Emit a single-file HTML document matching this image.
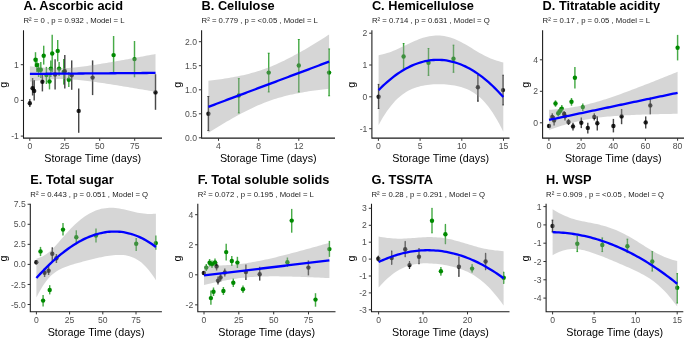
<!DOCTYPE html>
<html><head><meta charset="utf-8"><style>
html,body{margin:0;padding:0;background:#fff;}
svg{display:block;filter:blur(0.3px);}
text{font-family:"Liberation Sans",sans-serif;}
.ti{font-size:12.75px;font-weight:bold;fill:#000;}
.su{font-size:7.75px;fill:#1a1a1a;}
.tk{font-size:8.6px;fill:#4d4d4d;}
.xl{font-size:10.75px;fill:#000;}
</style></head><body>
<svg width="685" height="338" viewBox="0 0 685 338">
<rect width="685" height="338" fill="#fff"/>
<g><line x1="35.5" y1="52.2" x2="35.5" y2="67" stroke="rgba(0,138,0,0.72)" stroke-width="1.45"/><line x1="36.9" y1="58" x2="36.9" y2="72" stroke="rgba(0,138,0,0.72)" stroke-width="1.45"/><line x1="38.6" y1="63" x2="38.6" y2="77" stroke="rgba(0,138,0,0.72)" stroke-width="1.45"/><line x1="40.8" y1="62" x2="40.8" y2="78" stroke="rgba(0,138,0,0.72)" stroke-width="1.45"/><line x1="43.7" y1="45.7" x2="43.7" y2="64.6" stroke="rgba(0,138,0,0.72)" stroke-width="1.45"/><line x1="49.5" y1="74" x2="49.5" y2="89.4" stroke="rgba(0,138,0,0.72)" stroke-width="1.45"/><line x1="50.8" y1="60.6" x2="50.8" y2="77" stroke="rgba(0,138,0,0.72)" stroke-width="1.45"/><line x1="52.2" y1="34.7" x2="52.2" y2="72" stroke="rgba(0,138,0,0.72)" stroke-width="1.45"/><line x1="57.7" y1="40" x2="57.7" y2="61.5" stroke="rgba(0,138,0,0.72)" stroke-width="1.45"/><line x1="59.1" y1="62" x2="59.1" y2="76" stroke="rgba(0,138,0,0.72)" stroke-width="1.45"/><line x1="63.7" y1="59" x2="63.7" y2="84.6" stroke="rgba(0,138,0,0.72)" stroke-width="1.45"/><line x1="68.8" y1="72" x2="68.8" y2="86.9" stroke="rgba(0,138,0,0.72)" stroke-width="1.45"/><line x1="113.6" y1="36" x2="113.6" y2="72.7" stroke="rgba(0,138,0,0.72)" stroke-width="1.45"/><line x1="134.5" y1="41" x2="134.5" y2="77.3" stroke="rgba(0,138,0,0.72)" stroke-width="1.45"/><line x1="46.4" y1="66.9" x2="46.4" y2="84" stroke="rgba(0,138,0,0.72)" stroke-width="1.45"/><line x1="29.8" y1="99.1" x2="29.8" y2="107.1" stroke="rgba(0,0,0,0.72)" stroke-width="1.45"/><line x1="32.6" y1="78" x2="32.6" y2="95.5" stroke="rgba(0,0,0,0.72)" stroke-width="1.45"/><line x1="34.2" y1="80" x2="34.2" y2="100.4" stroke="rgba(0,0,0,0.72)" stroke-width="1.45"/><line x1="42.4" y1="74" x2="42.4" y2="91.4" stroke="rgba(0,0,0,0.72)" stroke-width="1.45"/><line x1="55.1" y1="59.3" x2="55.1" y2="89.5" stroke="rgba(0,0,0,0.72)" stroke-width="1.45"/><line x1="64.8" y1="55" x2="64.8" y2="88.6" stroke="rgba(0,0,0,0.72)" stroke-width="1.45"/><line x1="71.7" y1="60.4" x2="71.7" y2="89.8" stroke="rgba(0,0,0,0.72)" stroke-width="1.45"/><line x1="78.7" y1="88.5" x2="78.7" y2="132.8" stroke="rgba(0,0,0,0.72)" stroke-width="1.45"/><line x1="92.6" y1="60.4" x2="92.6" y2="95.1" stroke="rgba(0,0,0,0.72)" stroke-width="1.45"/><line x1="155.5" y1="74.2" x2="155.5" y2="109.8" stroke="rgba(0,0,0,0.72)" stroke-width="1.45"/><circle cx="35.5" cy="59.8" r="2.2" fill="#008a00"/><circle cx="36.9" cy="65.1" r="2.2" fill="#008a00"/><circle cx="38.6" cy="69.8" r="2.2" fill="#008a00"/><circle cx="40.8" cy="69.8" r="2.2" fill="#008a00"/><circle cx="43.7" cy="55.8" r="2.2" fill="#008a00"/><circle cx="49.5" cy="81.5" r="2.2" fill="#008a00"/><circle cx="50.8" cy="68.6" r="2.2" fill="#008a00"/><circle cx="52.2" cy="53.5" r="2.2" fill="#008a00"/><circle cx="57.7" cy="50.9" r="2.2" fill="#008a00"/><circle cx="59.1" cy="68.6" r="2.2" fill="#008a00"/><circle cx="63.7" cy="72" r="2.2" fill="#008a00"/><circle cx="68.8" cy="79.7" r="2.2" fill="#008a00"/><circle cx="113.6" cy="55.1" r="2.2" fill="#008a00"/><circle cx="134.5" cy="59.1" r="2.2" fill="#008a00"/><circle cx="46.4" cy="75" r="2.2" fill="#008a00"/><circle cx="29.8" cy="103.3" r="2.2" fill="rgba(0,0,0,0.85)"/><circle cx="32.6" cy="88.2" r="2.2" fill="rgba(0,0,0,0.85)"/><circle cx="34.2" cy="90.9" r="2.2" fill="rgba(0,0,0,0.85)"/><circle cx="42.4" cy="81.7" r="2.2" fill="rgba(0,0,0,0.85)"/><circle cx="55.1" cy="74.5" r="2.2" fill="rgba(0,0,0,0.85)"/><circle cx="64.8" cy="71.3" r="2.2" fill="rgba(0,0,0,0.85)"/><circle cx="71.7" cy="75.2" r="2.2" fill="rgba(0,0,0,0.85)"/><circle cx="78.7" cy="110.9" r="2.2" fill="rgba(0,0,0,0.85)"/><circle cx="92.6" cy="77.6" r="2.2" fill="rgba(0,0,0,0.85)"/><circle cx="155.5" cy="92.4" r="2.2" fill="rgba(0,0,0,0.85)"/><polygon points="29.9,66.17 32.03,66.43 34.16,66.69 36.29,66.93 38.42,67.16 40.54,67.37 42.67,67.56 44.8,67.74 46.93,67.89 49.06,68.02 51.19,68.13 53.32,68.21 55.45,68.26 57.57,68.28 59.7,68.28 61.83,68.24 63.96,68.18 66.09,68.08 68.22,67.96 70.35,67.81 72.48,67.64 74.61,67.44 76.73,67.23 78.86,67 80.99,66.74 83.12,66.48 85.25,66.2 87.38,65.91 89.51,65.61 91.64,65.29 93.76,64.97 95.89,64.64 98.02,64.31 100.15,63.97 102.28,63.62 104.41,63.26 106.54,62.91 108.67,62.55 110.79,62.18 112.92,61.81 115.05,61.44 117.18,61.06 119.31,60.69 121.44,60.31 123.57,59.93 125.7,59.54 127.83,59.16 129.95,58.77 132.08,58.38 134.21,57.99 136.34,57.6 138.47,57.2 140.6,56.81 142.73,56.41 144.86,56.02 146.98,55.62 149.11,55.22 151.24,54.82 153.37,54.42 155.5,54.02 155.5,91.8 153.37,91.43 151.24,91.06 149.11,90.7 146.98,90.33 144.86,89.97 142.73,89.61 140.6,89.25 138.47,88.88 136.34,88.52 134.21,88.17 132.08,87.81 129.95,87.45 127.83,87.1 125.7,86.75 123.57,86.4 121.44,86.05 119.31,85.7 117.18,85.36 115.05,85.02 112.92,84.68 110.79,84.34 108.67,84.01 106.54,83.69 104.41,83.36 102.28,83.04 100.15,82.73 98.02,82.42 95.89,82.12 93.76,81.82 91.64,81.54 89.51,81.26 87.38,80.99 85.25,80.73 83.12,80.48 80.99,80.25 78.86,80.03 76.73,79.83 74.61,79.65 72.48,79.49 70.35,79.35 68.22,79.24 66.09,79.15 63.96,79.09 61.83,79.06 59.7,79.06 57.57,79.08 55.45,79.14 53.32,79.22 51.19,79.34 49.06,79.48 46.93,79.64 44.8,79.83 42.67,80.04 40.54,80.27 38.42,80.51 36.29,80.77 34.16,81.05 32.03,81.34 29.9,81.64" fill="#999999" fill-opacity="0.4"/><polyline points="29.9,73.9 32.03,73.89 34.16,73.87 36.29,73.85 38.42,73.83 40.54,73.82 42.67,73.8 44.8,73.78 46.93,73.77 49.06,73.75 51.19,73.73 53.32,73.72 55.45,73.7 57.57,73.68 59.7,73.67 61.83,73.65 63.96,73.63 66.09,73.62 68.22,73.6 70.35,73.58 72.48,73.57 74.61,73.55 76.73,73.53 78.86,73.52 80.99,73.5 83.12,73.48 85.25,73.46 87.38,73.45 89.51,73.43 91.64,73.41 93.76,73.4 95.89,73.38 98.02,73.36 100.15,73.35 102.28,73.33 104.41,73.31 106.54,73.3 108.67,73.28 110.79,73.26 112.92,73.25 115.05,73.23 117.18,73.21 119.31,73.2 121.44,73.18 123.57,73.16 125.7,73.14 127.83,73.13 129.95,73.11 132.08,73.09 134.21,73.08 136.34,73.06 138.47,73.04 140.6,73.03 142.73,73.01 144.86,72.99 146.98,72.98 149.11,72.96 151.24,72.94 153.37,72.93 155.5,72.91" fill="none" stroke="#0000ff" stroke-width="2.3"/><path d="M23.5,30.2V138.1H162" fill="none" stroke="#1a1a1a" stroke-width="1.07"/><line x1="29.8" y1="138.1" x2="29.8" y2="140.8" stroke="#333" stroke-width="1"/><text x="29.8" y="149.1" class="tk" text-anchor="middle">0</text><line x1="64.8" y1="138.1" x2="64.8" y2="140.8" stroke="#333" stroke-width="1"/><text x="64.8" y="149.1" class="tk" text-anchor="middle">25</text><line x1="99.7" y1="138.1" x2="99.7" y2="140.8" stroke="#333" stroke-width="1"/><text x="99.7" y="149.1" class="tk" text-anchor="middle">50</text><line x1="134.7" y1="138.1" x2="134.7" y2="140.8" stroke="#333" stroke-width="1"/><text x="134.7" y="149.1" class="tk" text-anchor="middle">75</text><line x1="20.8" y1="64.7" x2="23.5" y2="64.7" stroke="#333" stroke-width="1"/><text x="18.9" y="67.75" class="tk" text-anchor="end">1</text><line x1="20.8" y1="100.4" x2="23.5" y2="100.4" stroke="#333" stroke-width="1"/><text x="18.9" y="103.45" class="tk" text-anchor="end">0</text><line x1="20.8" y1="136.1" x2="23.5" y2="136.1" stroke="#333" stroke-width="1"/><text x="18.9" y="139.15" class="tk" text-anchor="end">-1</text><text x="23.5" y="9.9" class="ti">A. Ascorbic acid</text><text x="23.5" y="23.3" class="su">R² = 0 , p = 0.932 , Model = L</text><text x="92.75" y="161.9" class="xl" text-anchor="middle">Storage Time (days)</text><text transform="translate(6.95,84.8) rotate(-90)" class="xl" text-anchor="middle">g</text></g>
<g><line x1="208.4" y1="96.5" x2="208.4" y2="130.6" stroke="rgba(0,0,0,0.72)" stroke-width="1.45"/><line x1="207.4" y1="96.5" x2="209.4" y2="96.5" stroke="rgba(0,0,0,0.72)" stroke-width="1"/><line x1="207.4" y1="130.6" x2="209.4" y2="130.6" stroke="rgba(0,0,0,0.72)" stroke-width="1"/><line x1="238.8" y1="78.6" x2="238.8" y2="113" stroke="rgba(0,138,0,0.72)" stroke-width="1.45"/><line x1="237.8" y1="78.6" x2="239.8" y2="78.6" stroke="rgba(0,138,0,0.72)" stroke-width="1"/><line x1="237.8" y1="113" x2="239.8" y2="113" stroke="rgba(0,138,0,0.72)" stroke-width="1"/><line x1="268.7" y1="53.2" x2="268.7" y2="92" stroke="rgba(0,138,0,0.72)" stroke-width="1.45"/><line x1="267.7" y1="53.2" x2="269.7" y2="53.2" stroke="rgba(0,138,0,0.72)" stroke-width="1"/><line x1="267.7" y1="92" x2="269.7" y2="92" stroke="rgba(0,138,0,0.72)" stroke-width="1"/><line x1="298.8" y1="39.5" x2="298.8" y2="92" stroke="rgba(0,138,0,0.72)" stroke-width="1.45"/><line x1="297.8" y1="39.5" x2="299.8" y2="39.5" stroke="rgba(0,138,0,0.72)" stroke-width="1"/><line x1="297.8" y1="92" x2="299.8" y2="92" stroke="rgba(0,138,0,0.72)" stroke-width="1"/><line x1="329.1" y1="48.9" x2="329.1" y2="95.8" stroke="rgba(0,138,0,0.72)" stroke-width="1.45"/><line x1="328.1" y1="48.9" x2="330.1" y2="48.9" stroke="rgba(0,138,0,0.72)" stroke-width="1"/><line x1="328.1" y1="95.8" x2="330.1" y2="95.8" stroke="rgba(0,138,0,0.72)" stroke-width="1"/><circle cx="208.4" cy="113.7" r="2.2" fill="rgba(0,0,0,0.85)"/><circle cx="238.8" cy="95.5" r="2.2" fill="#008a00"/><circle cx="268.7" cy="72.6" r="2.2" fill="#008a00"/><circle cx="298.8" cy="65.5" r="2.2" fill="#008a00"/><circle cx="329.1" cy="72.6" r="2.2" fill="#008a00"/><polygon points="208.4,80.8 210.45,80.56 212.49,80.31 214.54,80.06 216.58,79.79 218.63,79.51 220.67,79.22 222.72,78.93 224.77,78.62 226.81,78.29 228.86,77.96 230.9,77.6 232.95,77.24 234.99,76.86 237.04,76.46 239.09,76.04 241.13,75.6 243.18,75.14 245.22,74.66 247.27,74.16 249.32,73.64 251.36,73.09 253.41,72.52 255.45,71.92 257.5,71.3 259.54,70.65 261.59,69.97 263.64,69.26 265.68,68.52 267.73,67.75 269.77,66.96 271.82,66.14 273.86,65.29 275.91,64.41 277.96,63.5 280,62.57 282.05,61.61 284.09,60.63 286.14,59.62 288.18,58.59 290.23,57.54 292.28,56.46 294.32,55.37 296.37,54.26 298.41,53.12 300.46,51.98 302.51,50.81 304.55,49.63 306.6,48.44 308.64,47.23 310.69,46.01 312.73,44.77 314.78,43.53 316.83,42.27 318.87,41.01 320.92,39.73 322.96,38.45 325.01,37.16 327.05,35.86 329.1,34.55 329.1,88.72 327.05,88.94 325.01,89.18 322.96,89.42 320.92,89.67 318.87,89.93 316.83,90.19 314.78,90.47 312.73,90.76 310.69,91.06 308.64,91.37 306.6,91.69 304.55,92.03 302.51,92.38 300.46,92.75 298.41,93.13 296.37,93.53 294.32,93.95 292.28,94.39 290.23,94.85 288.18,95.33 286.14,95.83 284.09,96.36 282.05,96.91 280,97.48 277.96,98.08 275.91,98.71 273.86,99.36 271.82,100.04 269.77,100.75 267.73,101.49 265.68,102.26 263.64,103.05 261.59,103.88 259.54,104.73 257.5,105.61 255.45,106.52 253.41,107.45 251.36,108.41 249.32,109.4 247.27,110.41 245.22,111.44 243.18,112.49 241.13,113.57 239.09,114.66 237.04,115.78 234.99,116.91 232.95,118.06 230.9,119.23 228.86,120.41 226.81,121.6 224.77,122.81 222.72,124.04 220.67,125.27 218.63,126.52 216.58,127.77 214.54,129.04 212.49,130.31 210.45,131.6 208.4,132.89" fill="#999999" fill-opacity="0.4"/><polyline points="208.4,106.85 210.45,106.08 212.49,105.31 214.54,104.55 216.58,103.78 218.63,103.01 220.67,102.25 222.72,101.48 224.77,100.71 226.81,99.95 228.86,99.18 230.9,98.42 232.95,97.65 234.99,96.88 237.04,96.12 239.09,95.35 241.13,94.58 243.18,93.82 245.22,93.05 247.27,92.29 249.32,91.52 251.36,90.75 253.41,89.99 255.45,89.22 257.5,88.45 259.54,87.69 261.59,86.92 263.64,86.16 265.68,85.39 267.73,84.62 269.77,83.86 271.82,83.09 273.86,82.32 275.91,81.56 277.96,80.79 280,80.03 282.05,79.26 284.09,78.49 286.14,77.73 288.18,76.96 290.23,76.19 292.28,75.43 294.32,74.66 296.37,73.9 298.41,73.13 300.46,72.36 302.51,71.6 304.55,70.83 306.6,70.06 308.64,69.3 310.69,68.53 312.73,67.77 314.78,67 316.83,66.23 318.87,65.47 320.92,64.7 322.96,63.93 325.01,63.17 327.05,62.4 329.1,61.64" fill="none" stroke="#0000ff" stroke-width="2.3"/><path d="M201.6,30.2V138.1H335" fill="none" stroke="#1a1a1a" stroke-width="1.07"/><line x1="218.5" y1="138.1" x2="218.5" y2="140.8" stroke="#333" stroke-width="1"/><text x="218.5" y="149.1" class="tk" text-anchor="middle">4</text><line x1="258.7" y1="138.1" x2="258.7" y2="140.8" stroke="#333" stroke-width="1"/><text x="258.7" y="149.1" class="tk" text-anchor="middle">8</text><line x1="298.8" y1="138.1" x2="298.8" y2="140.8" stroke="#333" stroke-width="1"/><text x="298.8" y="149.1" class="tk" text-anchor="middle">12</text><line x1="198.9" y1="137.8" x2="201.6" y2="137.8" stroke="#333" stroke-width="1"/><text x="197" y="140.85" class="tk" text-anchor="end">0.0</text><line x1="198.9" y1="113.8" x2="201.6" y2="113.8" stroke="#333" stroke-width="1"/><text x="197" y="116.85" class="tk" text-anchor="end">0.5</text><line x1="198.9" y1="89.8" x2="201.6" y2="89.8" stroke="#333" stroke-width="1"/><text x="197" y="92.85" class="tk" text-anchor="end">1.0</text><line x1="198.9" y1="65.7" x2="201.6" y2="65.7" stroke="#333" stroke-width="1"/><text x="197" y="68.75" class="tk" text-anchor="end">1.5</text><line x1="198.9" y1="41.7" x2="201.6" y2="41.7" stroke="#333" stroke-width="1"/><text x="197" y="44.75" class="tk" text-anchor="end">2.0</text><text x="201.6" y="9.9" class="ti">B. Cellulose</text><text x="201.6" y="23.3" class="su">R² = 0.779 , p = <0.05 , Model = L</text><text x="268.3" y="161.9" class="xl" text-anchor="middle">Storage Time (days)</text><text transform="translate(180.95,84.8) rotate(-90)" class="xl" text-anchor="middle">g</text></g>
<g><line x1="378.6" y1="84.4" x2="378.6" y2="108.5" stroke="rgba(0,0,0,0.72)" stroke-width="1.45"/><line x1="377.75" y1="84.4" x2="379.45" y2="84.4" stroke="rgba(0,0,0,0.72)" stroke-width="1"/><line x1="377.75" y1="108.5" x2="379.45" y2="108.5" stroke="rgba(0,0,0,0.72)" stroke-width="1"/><line x1="403.6" y1="43.5" x2="403.6" y2="68.3" stroke="rgba(0,138,0,0.72)" stroke-width="1.45"/><line x1="402.75" y1="43.5" x2="404.45" y2="43.5" stroke="rgba(0,138,0,0.72)" stroke-width="1"/><line x1="402.75" y1="68.3" x2="404.45" y2="68.3" stroke="rgba(0,138,0,0.72)" stroke-width="1"/><line x1="428.5" y1="48.5" x2="428.5" y2="75.4" stroke="rgba(0,138,0,0.72)" stroke-width="1.45"/><line x1="427.65" y1="48.5" x2="429.35" y2="48.5" stroke="rgba(0,138,0,0.72)" stroke-width="1"/><line x1="427.65" y1="75.4" x2="429.35" y2="75.4" stroke="rgba(0,138,0,0.72)" stroke-width="1"/><line x1="453.5" y1="45.1" x2="453.5" y2="72.3" stroke="rgba(0,138,0,0.72)" stroke-width="1.45"/><line x1="452.65" y1="45.1" x2="454.35" y2="45.1" stroke="rgba(0,138,0,0.72)" stroke-width="1"/><line x1="452.65" y1="72.3" x2="454.35" y2="72.3" stroke="rgba(0,138,0,0.72)" stroke-width="1"/><line x1="477.9" y1="75.4" x2="477.9" y2="101.2" stroke="rgba(0,0,0,0.72)" stroke-width="1.45"/><line x1="477.05" y1="75.4" x2="478.75" y2="75.4" stroke="rgba(0,0,0,0.72)" stroke-width="1"/><line x1="477.05" y1="101.2" x2="478.75" y2="101.2" stroke="rgba(0,0,0,0.72)" stroke-width="1"/><line x1="503" y1="75.2" x2="503" y2="105" stroke="rgba(0,0,0,0.72)" stroke-width="1.45"/><line x1="502.15" y1="75.2" x2="503.85" y2="75.2" stroke="rgba(0,0,0,0.72)" stroke-width="1"/><line x1="502.15" y1="105" x2="503.85" y2="105" stroke="rgba(0,0,0,0.72)" stroke-width="1"/><circle cx="378.6" cy="96.7" r="2.2" fill="rgba(0,0,0,0.85)"/><circle cx="403.6" cy="56.5" r="2.2" fill="#008a00"/><circle cx="428.5" cy="62.8" r="2.2" fill="#008a00"/><circle cx="453.5" cy="58.8" r="2.2" fill="#008a00"/><circle cx="477.9" cy="87.2" r="2.2" fill="rgba(0,0,0,0.85)"/><circle cx="503" cy="90.1" r="2.2" fill="rgba(0,0,0,0.85)"/><polygon points="378.6,55.27 380.71,54.81 382.83,54.3 384.94,53.73 387.05,53.1 389.17,52.41 391.28,51.65 393.39,50.84 395.51,49.96 397.62,49.04 399.74,48.08 401.85,47.09 403.96,46.07 406.08,45.04 408.19,44.02 410.3,43 412.42,42.02 414.53,41.07 416.64,40.16 418.76,39.32 420.87,38.55 422.98,37.84 425.1,37.23 427.21,36.7 429.33,36.26 431.44,35.92 433.55,35.68 435.67,35.55 437.78,35.52 439.89,35.6 442.01,35.79 444.12,36.09 446.23,36.49 448.35,37 450.46,37.61 452.57,38.32 454.69,39.12 456.8,40.01 458.92,40.99 461.03,42.05 463.14,43.17 465.26,44.35 467.37,45.57 469.48,46.84 471.6,48.12 473.71,49.41 475.82,50.69 477.94,51.95 480.05,53.18 482.16,54.36 484.28,55.48 486.39,56.54 488.51,57.53 490.62,58.44 492.73,59.28 494.85,60.04 496.96,60.73 499.07,61.36 501.19,61.92 503.3,62.42 503.3,131.69 501.19,127.48 499.07,123.47 496.96,119.69 494.85,116.13 492.73,112.79 490.62,109.68 488.51,106.8 486.39,104.15 484.28,101.73 482.16,99.52 480.05,97.53 477.94,95.74 475.82,94.13 473.71,92.71 471.6,91.44 469.48,90.33 467.37,89.34 465.26,88.48 463.14,87.72 461.03,87.06 458.92,86.49 456.8,86 454.69,85.57 452.57,85.21 450.46,84.91 448.35,84.67 446.23,84.48 444.12,84.34 442.01,84.24 439.89,84.19 437.78,84.19 435.67,84.24 433.55,84.34 431.44,84.48 429.33,84.68 427.21,84.94 425.1,85.26 422.98,85.64 420.87,86.1 418.76,86.63 416.64,87.25 414.53,87.97 412.42,88.8 410.3,89.74 408.19,90.81 406.08,92.03 403.96,93.39 401.85,94.92 399.74,96.63 397.62,98.53 395.51,100.62 393.39,102.92 391.28,105.42 389.17,108.14 387.05,111.08 384.94,114.23 382.83,117.6 380.71,121.19 378.6,124.98" fill="#999999" fill-opacity="0.4"/><polyline points="378.6,90.13 380.71,88 382.83,85.95 384.94,83.98 387.05,82.09 389.17,80.27 391.28,78.54 393.39,76.88 395.51,75.29 397.62,73.79 399.74,72.36 401.85,71.01 403.96,69.73 406.08,68.53 408.19,67.41 410.3,66.37 412.42,65.41 414.53,64.52 416.64,63.71 418.76,62.98 420.87,62.32 422.98,61.74 425.1,61.24 427.21,60.82 429.33,60.47 431.44,60.2 433.55,60.01 435.67,59.9 437.78,59.86 439.89,59.9 442.01,60.02 444.12,60.21 446.23,60.48 448.35,60.83 450.46,61.26 452.57,61.76 454.69,62.35 456.8,63 458.92,63.74 461.03,64.55 463.14,65.44 465.26,66.41 467.37,67.46 469.48,68.58 471.6,69.78 473.71,71.06 475.82,72.41 477.94,73.84 480.05,75.35 482.16,76.94 484.28,78.6 486.39,80.35 488.51,82.16 490.62,84.06 492.73,86.03 494.85,88.08 496.96,90.21 499.07,92.42 501.19,94.7 503.3,97.06" fill="none" stroke="#0000ff" stroke-width="2.3"/><path d="M371.9,30.2V138.1H509.5" fill="none" stroke="#1a1a1a" stroke-width="1.07"/><line x1="378.4" y1="138.1" x2="378.4" y2="140.8" stroke="#333" stroke-width="1"/><text x="378.4" y="149.1" class="tk" text-anchor="middle">0</text><line x1="420.1" y1="138.1" x2="420.1" y2="140.8" stroke="#333" stroke-width="1"/><text x="420.1" y="149.1" class="tk" text-anchor="middle">5</text><line x1="461.8" y1="138.1" x2="461.8" y2="140.8" stroke="#333" stroke-width="1"/><text x="461.8" y="149.1" class="tk" text-anchor="middle">10</text><line x1="503.5" y1="138.1" x2="503.5" y2="140.8" stroke="#333" stroke-width="1"/><text x="503.5" y="149.1" class="tk" text-anchor="middle">15</text><line x1="369.2" y1="33.2" x2="371.9" y2="33.2" stroke="#333" stroke-width="1"/><text x="367.3" y="36.25" class="tk" text-anchor="end">2</text><line x1="369.2" y1="65" x2="371.9" y2="65" stroke="#333" stroke-width="1"/><text x="367.3" y="68.05" class="tk" text-anchor="end">1</text><line x1="369.2" y1="96.8" x2="371.9" y2="96.8" stroke="#333" stroke-width="1"/><text x="367.3" y="99.85" class="tk" text-anchor="end">0</text><line x1="369.2" y1="128.7" x2="371.9" y2="128.7" stroke="#333" stroke-width="1"/><text x="367.3" y="131.75" class="tk" text-anchor="end">-1</text><text x="371.9" y="9.9" class="ti">C. Hemicellulose</text><text x="371.9" y="23.3" class="su">R² = 0.714 , p = 0.631 , Model = Q</text><text x="440.7" y="161.9" class="xl" text-anchor="middle">Storage Time (days)</text><text transform="translate(354.95,84.8) rotate(-90)" class="xl" text-anchor="middle">g</text></g>
<g><line x1="549" y1="124" x2="549" y2="128" stroke="rgba(0,0,0,0.72)" stroke-width="1.45"/><line x1="552.3" y1="113.3" x2="552.3" y2="119.9" stroke="rgba(0,0,0,0.72)" stroke-width="1.45"/><line x1="554.1" y1="116" x2="554.1" y2="125.5" stroke="rgba(0,0,0,0.72)" stroke-width="1.45"/><line x1="564.1" y1="111" x2="564.1" y2="118" stroke="rgba(0,0,0,0.72)" stroke-width="1.45"/><line x1="565" y1="112" x2="565" y2="120.4" stroke="rgba(0,0,0,0.72)" stroke-width="1.45"/><line x1="568.5" y1="119" x2="568.5" y2="125" stroke="rgba(0,0,0,0.72)" stroke-width="1.45"/><line x1="573" y1="122.8" x2="573" y2="130.5" stroke="rgba(0,0,0,0.72)" stroke-width="1.45"/><line x1="581.3" y1="117.5" x2="581.3" y2="128.1" stroke="rgba(0,0,0,0.72)" stroke-width="1.45"/><line x1="587.8" y1="122.8" x2="587.8" y2="133.5" stroke="rgba(0,0,0,0.72)" stroke-width="1.45"/><line x1="594.3" y1="113.3" x2="594.3" y2="120.4" stroke="rgba(0,0,0,0.72)" stroke-width="1.45"/><line x1="597.3" y1="116.3" x2="597.3" y2="130.5" stroke="rgba(0,0,0,0.72)" stroke-width="1.45"/><line x1="613.4" y1="118.9" x2="613.4" y2="132.4" stroke="rgba(0,0,0,0.72)" stroke-width="1.45"/><line x1="621.6" y1="109" x2="621.6" y2="124.2" stroke="rgba(0,0,0,0.72)" stroke-width="1.45"/><line x1="645.7" y1="116.4" x2="645.7" y2="128.5" stroke="rgba(0,0,0,0.72)" stroke-width="1.45"/><line x1="650.3" y1="97.6" x2="650.3" y2="114.3" stroke="rgba(0,0,0,0.72)" stroke-width="1.45"/><line x1="555.5" y1="100.3" x2="555.5" y2="106.8" stroke="rgba(0,138,0,0.72)" stroke-width="1.45"/><line x1="558.2" y1="110" x2="558.2" y2="116.5" stroke="rgba(0,138,0,0.72)" stroke-width="1.45"/><line x1="560" y1="107.5" x2="560" y2="114.5" stroke="rgba(0,138,0,0.72)" stroke-width="1.45"/><line x1="561.8" y1="105" x2="561.8" y2="112" stroke="rgba(0,138,0,0.72)" stroke-width="1.45"/><line x1="571.5" y1="98" x2="571.5" y2="105.7" stroke="rgba(0,138,0,0.72)" stroke-width="1.45"/><line x1="574.9" y1="67.1" x2="574.9" y2="88.4" stroke="rgba(0,138,0,0.72)" stroke-width="1.45"/><line x1="582.8" y1="103.5" x2="582.8" y2="111" stroke="rgba(0,138,0,0.72)" stroke-width="1.45"/><line x1="677.6" y1="34.9" x2="677.6" y2="60.4" stroke="rgba(0,138,0,0.72)" stroke-width="1.45"/><circle cx="549" cy="126" r="2.2" fill="rgba(0,0,0,0.85)"/><circle cx="552.3" cy="116.9" r="2.2" fill="rgba(0,0,0,0.85)"/><circle cx="554.1" cy="120.4" r="2.2" fill="rgba(0,0,0,0.85)"/><circle cx="564.1" cy="113.9" r="2.2" fill="rgba(0,0,0,0.85)"/><circle cx="565" cy="116.3" r="2.2" fill="rgba(0,0,0,0.85)"/><circle cx="568.5" cy="122" r="2.2" fill="rgba(0,0,0,0.85)"/><circle cx="573" cy="126.4" r="2.2" fill="rgba(0,0,0,0.85)"/><circle cx="581.3" cy="122.8" r="2.2" fill="rgba(0,0,0,0.85)"/><circle cx="587.8" cy="127.9" r="2.2" fill="rgba(0,0,0,0.85)"/><circle cx="594.3" cy="116.9" r="2.2" fill="rgba(0,0,0,0.85)"/><circle cx="597.3" cy="123.2" r="2.2" fill="rgba(0,0,0,0.85)"/><circle cx="613.4" cy="126" r="2.2" fill="rgba(0,0,0,0.85)"/><circle cx="621.6" cy="116.4" r="2.2" fill="rgba(0,0,0,0.85)"/><circle cx="645.7" cy="122.4" r="2.2" fill="rgba(0,0,0,0.85)"/><circle cx="650.3" cy="105.4" r="2.2" fill="rgba(0,0,0,0.85)"/><circle cx="555.5" cy="103.5" r="2.2" fill="#008a00"/><circle cx="558.2" cy="113.3" r="2.2" fill="#008a00"/><circle cx="560" cy="111" r="2.2" fill="#008a00"/><circle cx="561.8" cy="108.6" r="2.2" fill="#008a00"/><circle cx="571.5" cy="101.7" r="2.2" fill="#008a00"/><circle cx="574.9" cy="77.8" r="2.2" fill="#008a00"/><circle cx="582.8" cy="107.1" r="2.2" fill="#008a00"/><circle cx="677.6" cy="47.7" r="2.2" fill="#008a00"/><polygon points="549,109.87 551.18,109.7 553.36,109.53 555.54,109.34 557.72,109.14 559.9,108.93 562.08,108.7 564.26,108.44 566.44,108.17 568.62,107.88 570.8,107.57 572.98,107.23 575.16,106.87 577.34,106.49 579.52,106.07 581.69,105.63 583.87,105.16 586.05,104.67 588.23,104.15 590.41,103.6 592.59,103.03 594.77,102.43 596.95,101.81 599.13,101.17 601.31,100.51 603.49,99.83 605.67,99.14 607.85,98.43 610.03,97.7 612.21,96.96 614.39,96.21 616.57,95.44 618.75,94.67 620.93,93.88 623.11,93.09 625.29,92.29 627.47,91.49 629.65,90.67 631.83,89.85 634.01,89.03 636.19,88.2 638.37,87.36 640.55,86.53 642.73,85.68 644.91,84.84 647.08,83.99 649.26,83.13 651.44,82.28 653.62,81.42 655.8,80.56 657.98,79.7 660.16,78.83 662.34,77.97 664.52,77.1 666.7,76.23 668.88,75.35 671.06,74.48 673.24,73.6 675.42,72.73 677.6,71.85 677.6,113.75 675.42,113.79 673.24,113.83 671.06,113.88 668.88,113.92 666.7,113.97 664.52,114.02 662.34,114.07 660.16,114.12 657.98,114.17 655.8,114.23 653.62,114.29 651.44,114.35 649.26,114.41 647.08,114.48 644.91,114.55 642.73,114.62 640.55,114.7 638.37,114.78 636.19,114.86 634.01,114.95 631.83,115.05 629.65,115.14 627.47,115.25 625.29,115.36 623.11,115.48 620.93,115.61 618.75,115.75 616.57,115.89 614.39,116.05 612.21,116.21 610.03,116.39 607.85,116.58 605.67,116.79 603.49,117.01 601.31,117.25 599.13,117.51 596.95,117.79 594.77,118.09 592.59,118.41 590.41,118.76 588.23,119.13 586.05,119.53 583.87,119.95 581.69,120.41 579.52,120.88 577.34,121.39 575.16,121.92 572.98,122.48 570.8,123.06 568.62,123.67 566.44,124.3 564.26,124.94 562.08,125.61 559.9,126.3 557.72,127 555.54,127.72 553.36,128.45 551.18,129.2 549,129.96" fill="#999999" fill-opacity="0.4"/><polyline points="549,119.91 551.18,119.45 553.36,118.99 555.54,118.53 557.72,118.07 559.9,117.61 562.08,117.15 564.26,116.69 566.44,116.24 568.62,115.78 570.8,115.32 572.98,114.86 575.16,114.4 577.34,113.94 579.52,113.48 581.69,113.02 583.87,112.56 586.05,112.1 588.23,111.64 590.41,111.18 592.59,110.72 594.77,110.26 596.95,109.8 599.13,109.34 601.31,108.88 603.49,108.42 605.67,107.96 607.85,107.5 610.03,107.04 612.21,106.59 614.39,106.13 616.57,105.67 618.75,105.21 620.93,104.75 623.11,104.29 625.29,103.83 627.47,103.37 629.65,102.91 631.83,102.45 634.01,101.99 636.19,101.53 638.37,101.07 640.55,100.61 642.73,100.15 644.91,99.69 647.08,99.23 649.26,98.77 651.44,98.31 653.62,97.85 655.8,97.39 657.98,96.93 660.16,96.48 662.34,96.02 664.52,95.56 666.7,95.1 668.88,94.64 671.06,94.18 673.24,93.72 675.42,93.26 677.6,92.8" fill="none" stroke="#0000ff" stroke-width="2.3"/><path d="M542.6,30.2V138.1H684" fill="none" stroke="#1a1a1a" stroke-width="1.07"/><line x1="548.9" y1="138.1" x2="548.9" y2="140.8" stroke="#333" stroke-width="1"/><text x="548.9" y="149.1" class="tk" text-anchor="middle">0</text><line x1="581.1" y1="138.1" x2="581.1" y2="140.8" stroke="#333" stroke-width="1"/><text x="581.1" y="149.1" class="tk" text-anchor="middle">20</text><line x1="613.3" y1="138.1" x2="613.3" y2="140.8" stroke="#333" stroke-width="1"/><text x="613.3" y="149.1" class="tk" text-anchor="middle">40</text><line x1="645.4" y1="138.1" x2="645.4" y2="140.8" stroke="#333" stroke-width="1"/><text x="645.4" y="149.1" class="tk" text-anchor="middle">60</text><line x1="677.6" y1="138.1" x2="677.6" y2="140.8" stroke="#333" stroke-width="1"/><text x="677.6" y="149.1" class="tk" text-anchor="middle">80</text><line x1="539.9" y1="122.8" x2="542.6" y2="122.8" stroke="#333" stroke-width="1"/><text x="538" y="125.85" class="tk" text-anchor="end">0</text><line x1="539.9" y1="91.3" x2="542.6" y2="91.3" stroke="#333" stroke-width="1"/><text x="538" y="94.35" class="tk" text-anchor="end">2</text><line x1="539.9" y1="59.8" x2="542.6" y2="59.8" stroke="#333" stroke-width="1"/><text x="538" y="62.85" class="tk" text-anchor="end">4</text><text x="542.6" y="9.9" class="ti">D. Titratable acidity</text><text x="542.6" y="23.3" class="su">R² = 0.17 , p = 0.05 , Model = L</text><text x="613.3" y="161.9" class="xl" text-anchor="middle">Storage Time (days)</text><text transform="translate(528.95,84.8) rotate(-90)" class="xl" text-anchor="middle">g</text></g>
<g><line x1="36.3" y1="260" x2="36.3" y2="264.5" stroke="rgba(0,0,0,0.72)" stroke-width="1.45"/><line x1="40.5" y1="246.9" x2="40.5" y2="256.1" stroke="rgba(0,138,0,0.72)" stroke-width="1.45"/><line x1="44.6" y1="268" x2="44.6" y2="277" stroke="rgba(0,0,0,0.72)" stroke-width="1.45"/><line x1="48.6" y1="266" x2="48.6" y2="275" stroke="rgba(0,0,0,0.72)" stroke-width="1.45"/><line x1="43.1" y1="294.9" x2="43.1" y2="306.5" stroke="rgba(0,138,0,0.72)" stroke-width="1.45"/><line x1="49.7" y1="285.2" x2="49.7" y2="294.4" stroke="rgba(0,138,0,0.72)" stroke-width="1.45"/><line x1="52.3" y1="247.3" x2="52.3" y2="262" stroke="rgba(0,0,0,0.72)" stroke-width="1.45"/><line x1="56.4" y1="254" x2="56.4" y2="263" stroke="rgba(0,0,0,0.72)" stroke-width="1.45"/><line x1="63" y1="223" x2="63" y2="235.5" stroke="rgba(0,138,0,0.72)" stroke-width="1.45"/><line x1="76.3" y1="230.3" x2="76.3" y2="244.3" stroke="rgba(0,138,0,0.72)" stroke-width="1.45"/><line x1="96" y1="228.4" x2="96" y2="242.6" stroke="rgba(0,138,0,0.72)" stroke-width="1.45"/><line x1="136.2" y1="237.9" x2="136.2" y2="250.9" stroke="rgba(0,138,0,0.72)" stroke-width="1.45"/><line x1="155.8" y1="235.5" x2="155.8" y2="249.7" stroke="rgba(0,138,0,0.72)" stroke-width="1.45"/><circle cx="36.3" cy="262.2" r="2.2" fill="rgba(0,0,0,0.85)"/><circle cx="40.5" cy="251.4" r="2.2" fill="#008a00"/><circle cx="44.6" cy="272.7" r="2.2" fill="rgba(0,0,0,0.85)"/><circle cx="48.6" cy="270.8" r="2.2" fill="rgba(0,0,0,0.85)"/><circle cx="43.1" cy="300.6" r="2.2" fill="#008a00"/><circle cx="49.7" cy="290" r="2.2" fill="#008a00"/><circle cx="52.3" cy="253.8" r="2.2" fill="rgba(0,0,0,0.85)"/><circle cx="56.4" cy="258.3" r="2.2" fill="rgba(0,0,0,0.85)"/><circle cx="63" cy="229.6" r="2.2" fill="#008a00"/><circle cx="76.3" cy="237.2" r="2.2" fill="#008a00"/><circle cx="96" cy="235.5" r="2.2" fill="#008a00"/><circle cx="136.2" cy="243.8" r="2.2" fill="#008a00"/><circle cx="155.8" cy="243.1" r="2.2" fill="#008a00"/><polygon points="36.4,258.71 38.43,258.09 40.45,257.33 42.48,256.41 44.5,255.3 46.53,253.98 48.55,252.44 50.58,250.7 52.6,248.76 54.63,246.67 56.65,244.46 58.68,242.17 60.71,239.84 62.73,237.51 64.76,235.19 66.78,232.92 68.81,230.71 70.83,228.57 72.86,226.51 74.88,224.55 76.91,222.68 78.93,220.92 80.96,219.26 82.98,217.71 85.01,216.27 87.04,214.94 89.06,213.73 91.09,212.63 93.11,211.65 95.14,210.78 97.16,210.03 99.19,209.39 101.21,208.86 103.24,208.44 105.26,208.13 107.29,207.92 109.32,207.81 111.34,207.79 113.37,207.87 115.39,208.03 117.42,208.27 119.44,208.57 121.47,208.94 123.49,209.35 125.52,209.81 127.54,210.29 129.57,210.78 131.59,211.28 133.62,211.76 135.65,212.22 137.67,212.64 139.7,213.01 141.72,213.33 143.75,213.58 145.77,213.77 147.8,213.9 149.82,213.95 151.85,213.94 153.87,213.87 155.9,213.74 155.9,280.23 153.87,277.07 151.85,274.14 149.82,271.43 147.8,268.95 145.77,266.7 143.75,264.66 141.72,262.86 139.7,261.26 137.67,259.88 135.65,258.7 133.62,257.71 131.59,256.89 129.57,256.24 127.54,255.73 125.52,255.36 123.49,255.11 121.47,254.96 119.44,254.91 117.42,254.94 115.39,255.05 113.37,255.21 111.34,255.44 109.32,255.71 107.29,256.02 105.26,256.37 103.24,256.75 101.21,257.16 99.19,257.59 97.16,258.04 95.14,258.51 93.11,258.99 91.09,259.49 89.06,260 87.04,260.52 85.01,261.05 82.98,261.59 80.96,262.14 78.93,262.7 76.91,263.28 74.88,263.87 72.86,264.48 70.83,265.12 68.81,265.79 66.78,266.5 64.76,267.27 62.73,268.1 60.71,269.03 58.68,270.07 56.65,271.26 54.63,272.63 52.6,274.22 50.58,276.08 48.55,278.23 46.53,280.7 44.5,283.48 42.48,286.57 40.45,289.94 38.43,293.58 36.4,297.47" fill="#999999" fill-opacity="0.4"/><polyline points="36.4,278.09 38.43,275.84 40.45,273.64 42.48,271.49 44.5,269.39 46.53,267.34 48.55,265.34 50.58,263.39 52.6,261.49 54.63,259.65 56.65,257.86 58.68,256.12 60.71,254.43 62.73,252.8 64.76,251.23 66.78,249.71 68.81,248.25 70.83,246.85 72.86,245.5 74.88,244.21 76.91,242.98 78.93,241.81 80.96,240.7 82.98,239.65 85.01,238.66 87.04,237.73 89.06,236.87 91.09,236.06 93.11,235.32 95.14,234.65 97.16,234.04 99.19,233.49 101.21,233.01 103.24,232.6 105.26,232.25 107.29,231.97 109.32,231.76 111.34,231.62 113.37,231.54 115.39,231.54 117.42,231.6 119.44,231.74 121.47,231.95 123.49,232.23 125.52,232.58 127.54,233.01 129.57,233.51 131.59,234.08 133.62,234.73 135.65,235.46 137.67,236.26 139.7,237.14 141.72,238.09 143.75,239.12 145.77,240.23 147.8,241.42 149.82,242.69 151.85,244.04 153.87,245.47 155.9,246.99" fill="none" stroke="#0000ff" stroke-width="2.3"/><path d="M30.3,203.8V311.7H161.9" fill="none" stroke="#1a1a1a" stroke-width="1.07"/><line x1="36.4" y1="311.7" x2="36.4" y2="314.4" stroke="#333" stroke-width="1"/><text x="36.4" y="322.7" class="tk" text-anchor="middle">0</text><line x1="69.6" y1="311.7" x2="69.6" y2="314.4" stroke="#333" stroke-width="1"/><text x="69.6" y="322.7" class="tk" text-anchor="middle">25</text><line x1="102.8" y1="311.7" x2="102.8" y2="314.4" stroke="#333" stroke-width="1"/><text x="102.8" y="322.7" class="tk" text-anchor="middle">50</text><line x1="136" y1="311.7" x2="136" y2="314.4" stroke="#333" stroke-width="1"/><text x="136" y="322.7" class="tk" text-anchor="middle">75</text><line x1="27.6" y1="204.25" x2="30.3" y2="204.25" stroke="#333" stroke-width="1"/><text x="25.7" y="207.3" class="tk" text-anchor="end">7.5</text><line x1="27.6" y1="224.3" x2="30.3" y2="224.3" stroke="#333" stroke-width="1"/><text x="25.7" y="227.35" class="tk" text-anchor="end">5.0</text><line x1="27.6" y1="244.35" x2="30.3" y2="244.35" stroke="#333" stroke-width="1"/><text x="25.7" y="247.4" class="tk" text-anchor="end">2.5</text><line x1="27.6" y1="264.4" x2="30.3" y2="264.4" stroke="#333" stroke-width="1"/><text x="25.7" y="267.45" class="tk" text-anchor="end">0.0</text><line x1="27.6" y1="284.45" x2="30.3" y2="284.45" stroke="#333" stroke-width="1"/><text x="25.7" y="287.5" class="tk" text-anchor="end">-2.5</text><line x1="27.6" y1="304.5" x2="30.3" y2="304.5" stroke="#333" stroke-width="1"/><text x="25.7" y="307.55" class="tk" text-anchor="end">-5.0</text><text x="30.3" y="183.5" class="ti">E. Total sugar</text><text x="30.3" y="196.9" class="su">R² = 0.443 , p = 0.051 , Model = Q</text><text x="96.1" y="335.5" class="xl" text-anchor="middle">Storage Time (days)</text><text transform="translate(6.85,258.4) rotate(-90)" class="xl" text-anchor="middle">g</text></g>
<g><line x1="203.8" y1="271" x2="203.8" y2="275" stroke="rgba(0,0,0,0.72)" stroke-width="1.45"/><line x1="206.3" y1="264" x2="206.3" y2="271" stroke="rgba(0,138,0,0.72)" stroke-width="1.45"/><line x1="209.6" y1="259" x2="209.6" y2="266.5" stroke="rgba(0,138,0,0.72)" stroke-width="1.45"/><line x1="212" y1="260.5" x2="212" y2="268" stroke="rgba(0,138,0,0.72)" stroke-width="1.45"/><line x1="215" y1="258.5" x2="215" y2="266" stroke="rgba(0,138,0,0.72)" stroke-width="1.45"/><line x1="216.6" y1="262" x2="216.6" y2="270.5" stroke="rgba(0,0,0,0.72)" stroke-width="1.45"/><line x1="218" y1="276.5" x2="218" y2="284.5" stroke="rgba(0,0,0,0.72)" stroke-width="1.45"/><line x1="220.6" y1="273.5" x2="220.6" y2="281.5" stroke="rgba(0,0,0,0.72)" stroke-width="1.45"/><line x1="224.8" y1="268.5" x2="224.8" y2="276.5" stroke="rgba(0,0,0,0.72)" stroke-width="1.45"/><line x1="226.2" y1="243.8" x2="226.2" y2="260.4" stroke="rgba(0,138,0,0.72)" stroke-width="1.45"/><line x1="231.8" y1="256" x2="231.8" y2="266" stroke="rgba(0,138,0,0.72)" stroke-width="1.45"/><line x1="237.4" y1="256.8" x2="237.4" y2="268" stroke="rgba(0,138,0,0.72)" stroke-width="1.45"/><line x1="233.3" y1="278.5" x2="233.3" y2="287" stroke="rgba(0,138,0,0.72)" stroke-width="1.45"/><line x1="223.4" y1="287" x2="223.4" y2="295" stroke="rgba(0,138,0,0.72)" stroke-width="1.45"/><line x1="213.5" y1="287.5" x2="213.5" y2="296" stroke="rgba(0,138,0,0.72)" stroke-width="1.45"/><line x1="210.9" y1="290.5" x2="210.9" y2="304.7" stroke="rgba(0,138,0,0.72)" stroke-width="1.45"/><line x1="243" y1="285.5" x2="243" y2="293" stroke="rgba(0,138,0,0.72)" stroke-width="1.45"/><line x1="245.9" y1="264.5" x2="245.9" y2="279.9" stroke="rgba(0,0,0,0.72)" stroke-width="1.45"/><line x1="259.7" y1="266.8" x2="259.7" y2="280.6" stroke="rgba(0,0,0,0.72)" stroke-width="1.45"/><line x1="287.4" y1="257.5" x2="287.4" y2="267" stroke="rgba(0,138,0,0.72)" stroke-width="1.45"/><line x1="291.7" y1="208.9" x2="291.7" y2="232.7" stroke="rgba(0,138,0,0.72)" stroke-width="1.45"/><line x1="308.4" y1="260.4" x2="308.4" y2="275.4" stroke="rgba(0,0,0,0.72)" stroke-width="1.45"/><line x1="315.5" y1="293.2" x2="315.5" y2="306.7" stroke="rgba(0,138,0,0.72)" stroke-width="1.45"/><line x1="329.4" y1="240.9" x2="329.4" y2="256.9" stroke="rgba(0,138,0,0.72)" stroke-width="1.45"/><circle cx="203.8" cy="273" r="2.2" fill="rgba(0,0,0,0.85)"/><circle cx="206.3" cy="267.6" r="2.2" fill="#008a00"/><circle cx="209.6" cy="262.8" r="2.2" fill="#008a00"/><circle cx="212" cy="264.2" r="2.2" fill="#008a00"/><circle cx="215" cy="262.4" r="2.2" fill="#008a00"/><circle cx="216.6" cy="266.4" r="2.2" fill="rgba(0,0,0,0.85)"/><circle cx="218" cy="280.6" r="2.2" fill="rgba(0,0,0,0.85)"/><circle cx="220.6" cy="277.5" r="2.2" fill="rgba(0,0,0,0.85)"/><circle cx="224.8" cy="272.5" r="2.2" fill="rgba(0,0,0,0.85)"/><circle cx="226.2" cy="252.1" r="2.2" fill="#008a00"/><circle cx="231.8" cy="261" r="2.2" fill="#008a00"/><circle cx="237.4" cy="262.6" r="2.2" fill="#008a00"/><circle cx="233.3" cy="282.7" r="2.2" fill="#008a00"/><circle cx="223.4" cy="291" r="2.2" fill="#008a00"/><circle cx="213.5" cy="291.7" r="2.2" fill="#008a00"/><circle cx="210.9" cy="298.1" r="2.2" fill="#008a00"/><circle cx="243" cy="289.3" r="2.2" fill="#008a00"/><circle cx="245.9" cy="272" r="2.2" fill="rgba(0,0,0,0.85)"/><circle cx="259.7" cy="274.2" r="2.2" fill="rgba(0,0,0,0.85)"/><circle cx="287.4" cy="262.2" r="2.2" fill="#008a00"/><circle cx="291.7" cy="220.6" r="2.2" fill="#008a00"/><circle cx="308.4" cy="267.6" r="2.2" fill="rgba(0,0,0,0.85)"/><circle cx="315.5" cy="299.6" r="2.2" fill="#008a00"/><circle cx="329.4" cy="249.1" r="2.2" fill="#008a00"/><polygon points="204,265.66 206.13,265.66 208.25,265.66 210.38,265.65 212.5,265.63 214.63,265.6 216.75,265.55 218.88,265.5 221,265.42 223.13,265.34 225.25,265.23 227.38,265.11 229.51,264.97 231.63,264.82 233.76,264.64 235.88,264.44 238.01,264.22 240.13,263.99 242.26,263.73 244.38,263.44 246.51,263.14 248.63,262.82 250.76,262.48 252.88,262.12 255.01,261.74 257.14,261.34 259.26,260.93 261.39,260.5 263.51,260.05 265.64,259.6 267.76,259.13 269.89,258.65 272.01,258.15 274.14,257.65 276.26,257.14 278.39,256.62 280.52,256.1 282.64,255.56 284.77,255.02 286.89,254.48 289.02,253.93 291.14,253.37 293.27,252.81 295.39,252.24 297.52,251.67 299.64,251.1 301.77,250.52 303.89,249.94 306.02,249.35 308.15,248.77 310.27,248.18 312.4,247.59 314.52,246.99 316.65,246.4 318.77,245.8 320.9,245.2 323.02,244.6 325.15,243.99 327.27,243.39 329.4,242.78 329.4,278.09 327.27,277.99 325.15,277.89 323.02,277.79 320.9,277.69 318.77,277.6 316.65,277.5 314.52,277.41 312.4,277.32 310.27,277.24 308.15,277.15 306.02,277.07 303.89,276.99 301.77,276.92 299.64,276.84 297.52,276.77 295.39,276.71 293.27,276.65 291.14,276.59 289.02,276.54 286.89,276.49 284.77,276.45 282.64,276.42 280.52,276.39 278.39,276.37 276.26,276.35 274.14,276.35 272.01,276.35 269.89,276.36 267.76,276.39 265.64,276.42 263.51,276.47 261.39,276.53 259.26,276.61 257.14,276.7 255.01,276.81 252.88,276.93 250.76,277.08 248.63,277.24 246.51,277.42 244.38,277.63 242.26,277.85 240.13,278.09 238.01,278.36 235.88,278.65 233.76,278.95 231.63,279.28 229.51,279.63 227.38,280 225.25,280.38 223.13,280.78 221,281.2 218.88,281.63 216.75,282.08 214.63,282.54 212.5,283.01 210.38,283.5 208.25,283.99 206.13,284.5 204,285.01" fill="#999999" fill-opacity="0.4"/><polyline points="204,275.33 206.13,275.08 208.25,274.83 210.38,274.57 212.5,274.32 214.63,274.07 216.75,273.82 218.88,273.56 221,273.31 223.13,273.06 225.25,272.81 227.38,272.55 229.51,272.3 231.63,272.05 233.76,271.8 235.88,271.54 238.01,271.29 240.13,271.04 242.26,270.79 244.38,270.53 246.51,270.28 248.63,270.03 250.76,269.78 252.88,269.52 255.01,269.27 257.14,269.02 259.26,268.77 261.39,268.51 263.51,268.26 265.64,268.01 267.76,267.76 269.89,267.5 272.01,267.25 274.14,267 276.26,266.75 278.39,266.49 280.52,266.24 282.64,265.99 284.77,265.74 286.89,265.48 289.02,265.23 291.14,264.98 293.27,264.73 295.39,264.47 297.52,264.22 299.64,263.97 301.77,263.72 303.89,263.46 306.02,263.21 308.15,262.96 310.27,262.71 312.4,262.45 314.52,262.2 316.65,261.95 318.77,261.7 320.9,261.44 323.02,261.19 325.15,260.94 327.27,260.69 329.4,260.43" fill="none" stroke="#0000ff" stroke-width="2.3"/><path d="M197.8,203.8V311.7H335.5" fill="none" stroke="#1a1a1a" stroke-width="1.07"/><line x1="204" y1="311.7" x2="204" y2="314.4" stroke="#333" stroke-width="1"/><text x="204" y="322.7" class="tk" text-anchor="middle">0</text><line x1="238.8" y1="311.7" x2="238.8" y2="314.4" stroke="#333" stroke-width="1"/><text x="238.8" y="322.7" class="tk" text-anchor="middle">25</text><line x1="273.7" y1="311.7" x2="273.7" y2="314.4" stroke="#333" stroke-width="1"/><text x="273.7" y="322.7" class="tk" text-anchor="middle">50</text><line x1="308.5" y1="311.7" x2="308.5" y2="314.4" stroke="#333" stroke-width="1"/><text x="308.5" y="322.7" class="tk" text-anchor="middle">75</text><line x1="195.1" y1="214.7" x2="197.8" y2="214.7" stroke="#333" stroke-width="1"/><text x="193.2" y="217.75" class="tk" text-anchor="end">4</text><line x1="195.1" y1="244.75" x2="197.8" y2="244.75" stroke="#333" stroke-width="1"/><text x="193.2" y="247.8" class="tk" text-anchor="end">2</text><line x1="195.1" y1="274.8" x2="197.8" y2="274.8" stroke="#333" stroke-width="1"/><text x="193.2" y="277.85" class="tk" text-anchor="end">0</text><line x1="195.1" y1="304.85" x2="197.8" y2="304.85" stroke="#333" stroke-width="1"/><text x="193.2" y="307.9" class="tk" text-anchor="end">-2</text><text x="197.8" y="183.5" class="ti">F. Total soluble solids</text><text x="197.8" y="196.9" class="su">R² = 0.072 , p = 0.195 , Model = L</text><text x="266.65" y="335.5" class="xl" text-anchor="middle">Storage Time (days)</text><text transform="translate(180.95,258.4) rotate(-90)" class="xl" text-anchor="middle">g</text></g>
<g><line x1="378.3" y1="256" x2="378.3" y2="261.2" stroke="rgba(0,0,0,0.72)" stroke-width="1.45"/><line x1="377.85" y1="256" x2="378.75" y2="256" stroke="rgba(0,0,0,0.72)" stroke-width="1"/><line x1="377.85" y1="261.2" x2="378.75" y2="261.2" stroke="rgba(0,0,0,0.72)" stroke-width="1"/><line x1="391.7" y1="250.9" x2="391.7" y2="264.4" stroke="rgba(0,0,0,0.72)" stroke-width="1.45"/><line x1="391.25" y1="250.9" x2="392.15" y2="250.9" stroke="rgba(0,0,0,0.72)" stroke-width="1"/><line x1="391.25" y1="264.4" x2="392.15" y2="264.4" stroke="rgba(0,0,0,0.72)" stroke-width="1"/><line x1="405.2" y1="241.4" x2="405.2" y2="256.8" stroke="rgba(0,0,0,0.72)" stroke-width="1.45"/><line x1="404.75" y1="241.4" x2="405.65" y2="241.4" stroke="rgba(0,0,0,0.72)" stroke-width="1"/><line x1="404.75" y1="256.8" x2="405.65" y2="256.8" stroke="rgba(0,0,0,0.72)" stroke-width="1"/><line x1="409.5" y1="261.5" x2="409.5" y2="268.5" stroke="rgba(0,0,0,0.72)" stroke-width="1.45"/><line x1="409.05" y1="261.5" x2="409.95" y2="261.5" stroke="rgba(0,0,0,0.72)" stroke-width="1"/><line x1="409.05" y1="268.5" x2="409.95" y2="268.5" stroke="rgba(0,0,0,0.72)" stroke-width="1"/><line x1="419" y1="248.5" x2="419" y2="263.9" stroke="rgba(0,0,0,0.72)" stroke-width="1.45"/><line x1="418.55" y1="248.5" x2="419.45" y2="248.5" stroke="rgba(0,0,0,0.72)" stroke-width="1"/><line x1="418.55" y1="263.9" x2="419.45" y2="263.9" stroke="rgba(0,0,0,0.72)" stroke-width="1"/><line x1="432" y1="208.3" x2="432" y2="233.1" stroke="rgba(0,138,0,0.72)" stroke-width="1.45"/><line x1="431.55" y1="208.3" x2="432.45" y2="208.3" stroke="rgba(0,138,0,0.72)" stroke-width="1"/><line x1="431.55" y1="233.1" x2="432.45" y2="233.1" stroke="rgba(0,138,0,0.72)" stroke-width="1"/><line x1="440.9" y1="267.5" x2="440.9" y2="275.3" stroke="rgba(0,138,0,0.72)" stroke-width="1.45"/><line x1="440.45" y1="267.5" x2="441.35" y2="267.5" stroke="rgba(0,138,0,0.72)" stroke-width="1"/><line x1="440.45" y1="275.3" x2="441.35" y2="275.3" stroke="rgba(0,138,0,0.72)" stroke-width="1"/><line x1="445.4" y1="224.4" x2="445.4" y2="243.8" stroke="rgba(0,138,0,0.72)" stroke-width="1.45"/><line x1="444.95" y1="224.4" x2="445.85" y2="224.4" stroke="rgba(0,138,0,0.72)" stroke-width="1"/><line x1="444.95" y1="243.8" x2="445.85" y2="243.8" stroke="rgba(0,138,0,0.72)" stroke-width="1"/><line x1="458.9" y1="256.8" x2="458.9" y2="276.4" stroke="rgba(0,0,0,0.72)" stroke-width="1.45"/><line x1="458.45" y1="256.8" x2="459.35" y2="256.8" stroke="rgba(0,0,0,0.72)" stroke-width="1"/><line x1="458.45" y1="276.4" x2="459.35" y2="276.4" stroke="rgba(0,0,0,0.72)" stroke-width="1"/><line x1="472.1" y1="264.4" x2="472.1" y2="272.2" stroke="rgba(0,138,0,0.72)" stroke-width="1.45"/><line x1="471.65" y1="264.4" x2="472.55" y2="264.4" stroke="rgba(0,138,0,0.72)" stroke-width="1"/><line x1="471.65" y1="272.2" x2="472.55" y2="272.2" stroke="rgba(0,138,0,0.72)" stroke-width="1"/><line x1="485.6" y1="253.3" x2="485.6" y2="269.8" stroke="rgba(0,0,0,0.72)" stroke-width="1.45"/><line x1="485.15" y1="253.3" x2="486.05" y2="253.3" stroke="rgba(0,0,0,0.72)" stroke-width="1"/><line x1="485.15" y1="269.8" x2="486.05" y2="269.8" stroke="rgba(0,0,0,0.72)" stroke-width="1"/><line x1="503.7" y1="272" x2="503.7" y2="283.5" stroke="rgba(0,138,0,0.72)" stroke-width="1.45"/><line x1="503.25" y1="272" x2="504.15" y2="272" stroke="rgba(0,138,0,0.72)" stroke-width="1"/><line x1="503.25" y1="283.5" x2="504.15" y2="283.5" stroke="rgba(0,138,0,0.72)" stroke-width="1"/><circle cx="378.3" cy="258.7" r="2.2" fill="rgba(0,0,0,0.85)"/><circle cx="391.7" cy="258" r="2.2" fill="rgba(0,0,0,0.85)"/><circle cx="405.2" cy="249.2" r="2.2" fill="rgba(0,0,0,0.85)"/><circle cx="409.5" cy="265.1" r="2.2" fill="rgba(0,0,0,0.85)"/><circle cx="419" cy="256.8" r="2.2" fill="rgba(0,0,0,0.85)"/><circle cx="432" cy="220.8" r="2.2" fill="#008a00"/><circle cx="440.9" cy="271.3" r="2.2" fill="#008a00"/><circle cx="445.4" cy="234.3" r="2.2" fill="#008a00"/><circle cx="458.9" cy="266.7" r="2.2" fill="rgba(0,0,0,0.85)"/><circle cx="472.1" cy="268.6" r="2.2" fill="#008a00"/><circle cx="485.6" cy="261.5" r="2.2" fill="rgba(0,0,0,0.85)"/><circle cx="503.7" cy="277.8" r="2.2" fill="#008a00"/><polygon points="378.6,236.59 380.72,236.97 382.84,237.31 384.96,237.62 387.07,237.89 389.19,238.12 391.31,238.31 393.43,238.46 395.55,238.56 397.67,238.63 399.79,238.65 401.91,238.63 404.02,238.57 406.14,238.48 408.26,238.36 410.38,238.22 412.5,238.06 414.62,237.89 416.74,237.72 418.85,237.56 420.97,237.41 423.09,237.28 425.21,237.18 427.33,237.11 429.45,237.08 431.57,237.09 433.68,237.15 435.8,237.25 437.92,237.4 440.04,237.6 442.16,237.86 444.28,238.16 446.4,238.51 448.52,238.91 450.63,239.36 452.75,239.85 454.87,240.38 456.99,240.94 459.11,241.53 461.23,242.15 463.35,242.78 465.46,243.42 467.58,244.07 469.7,244.71 471.82,245.35 473.94,245.97 476.06,246.56 478.18,247.13 480.29,247.67 482.41,248.17 484.53,248.63 486.65,249.06 488.77,249.45 490.89,249.8 493.01,250.11 495.13,250.38 497.24,250.62 499.36,250.82 501.48,250.99 503.6,251.13 503.6,305.51 501.48,302.55 499.36,299.71 497.24,296.99 495.13,294.39 493.01,291.92 490.89,289.57 488.77,287.34 486.65,285.25 484.53,283.28 482.41,281.44 480.29,279.72 478.18,278.13 476.06,276.65 473.94,275.29 471.82,274.04 469.7,272.89 467.58,271.84 465.46,270.88 463.35,270.01 461.23,269.21 459.11,268.49 456.99,267.82 454.87,267.22 452.75,266.67 450.63,266.17 448.52,265.72 446.4,265.3 444.28,264.93 442.16,264.59 440.04,264.3 437.92,264.04 435.8,263.81 433.68,263.63 431.57,263.48 429.45,263.38 427.33,263.33 425.21,263.32 423.09,263.37 420.97,263.49 418.85,263.67 416.74,263.92 414.62,264.25 412.5,264.68 410.38,265.2 408.26,265.82 406.14,266.56 404.02,267.41 401.91,268.38 399.79,269.48 397.67,270.71 395.55,272.07 393.43,273.56 391.31,275.17 389.19,276.92 387.07,278.8 384.96,280.8 382.84,282.93 380.72,285.18 378.6,287.56" fill="#999999" fill-opacity="0.4"/><polyline points="378.6,262.07 380.72,261.08 382.84,260.12 384.96,259.21 387.07,258.34 389.19,257.52 391.31,256.74 393.43,256.01 395.55,255.31 397.67,254.67 399.79,254.06 401.91,253.51 404.02,252.99 406.14,252.52 408.26,252.09 410.38,251.71 412.5,251.37 414.62,251.07 416.74,250.82 418.85,250.61 420.97,250.45 423.09,250.33 425.21,250.25 427.33,250.22 429.45,250.23 431.57,250.29 433.68,250.39 435.8,250.53 437.92,250.72 440.04,250.95 442.16,251.22 444.28,251.54 446.4,251.91 448.52,252.31 450.63,252.77 452.75,253.26 454.87,253.8 456.99,254.38 459.11,255.01 461.23,255.68 463.35,256.39 465.46,257.15 467.58,257.96 469.7,258.8 471.82,259.69 473.94,260.63 476.06,261.6 478.18,262.63 480.29,263.69 482.41,264.8 484.53,265.96 486.65,267.16 488.77,268.4 490.89,269.68 493.01,271.01 495.13,272.39 497.24,273.8 499.36,275.26 501.48,276.77 503.6,278.32" fill="none" stroke="#0000ff" stroke-width="2.3"/><path d="M371.5,203.8V311.7H509.5" fill="none" stroke="#1a1a1a" stroke-width="1.07"/><line x1="378.6" y1="311.7" x2="378.6" y2="314.4" stroke="#333" stroke-width="1"/><text x="378.6" y="322.7" class="tk" text-anchor="middle">0</text><line x1="423" y1="311.7" x2="423" y2="314.4" stroke="#333" stroke-width="1"/><text x="423" y="322.7" class="tk" text-anchor="middle">10</text><line x1="467.5" y1="311.7" x2="467.5" y2="314.4" stroke="#333" stroke-width="1"/><text x="467.5" y="322.7" class="tk" text-anchor="middle">20</text><line x1="368.8" y1="208.3" x2="371.5" y2="208.3" stroke="#333" stroke-width="1"/><text x="366.9" y="211.35" class="tk" text-anchor="end">3</text><line x1="368.8" y1="225.3" x2="371.5" y2="225.3" stroke="#333" stroke-width="1"/><text x="366.9" y="228.35" class="tk" text-anchor="end">2</text><line x1="368.8" y1="242.2" x2="371.5" y2="242.2" stroke="#333" stroke-width="1"/><text x="366.9" y="245.25" class="tk" text-anchor="end">1</text><line x1="368.8" y1="259.1" x2="371.5" y2="259.1" stroke="#333" stroke-width="1"/><text x="366.9" y="262.15" class="tk" text-anchor="end">0</text><line x1="368.8" y1="276" x2="371.5" y2="276" stroke="#333" stroke-width="1"/><text x="366.9" y="279.05" class="tk" text-anchor="end">-1</text><line x1="368.8" y1="292.9" x2="371.5" y2="292.9" stroke="#333" stroke-width="1"/><text x="366.9" y="295.95" class="tk" text-anchor="end">-2</text><line x1="368.8" y1="309.8" x2="371.5" y2="309.8" stroke="#333" stroke-width="1"/><text x="366.9" y="312.85" class="tk" text-anchor="end">-3</text><text x="371.5" y="183.5" class="ti">G. TSS/TA</text><text x="371.5" y="196.9" class="su">R² = 0.28 , p = 0.291 , Model = Q</text><text x="440.5" y="335.5" class="xl" text-anchor="middle">Storage Time (days)</text><text transform="translate(355,258.4) rotate(-90)" class="xl" text-anchor="middle">g</text></g>
<g><line x1="552.5" y1="220.1" x2="552.5" y2="232" stroke="rgba(0,0,0,0.72)" stroke-width="1.45"/><line x1="551.65" y1="220.1" x2="553.35" y2="220.1" stroke="rgba(0,0,0,0.72)" stroke-width="1"/><line x1="551.65" y1="232" x2="553.35" y2="232" stroke="rgba(0,0,0,0.72)" stroke-width="1"/><line x1="577.3" y1="236.2" x2="577.3" y2="251.6" stroke="rgba(0,138,0,0.72)" stroke-width="1.45"/><line x1="576.45" y1="236.2" x2="578.15" y2="236.2" stroke="rgba(0,138,0,0.72)" stroke-width="1"/><line x1="576.45" y1="251.6" x2="578.15" y2="251.6" stroke="rgba(0,138,0,0.72)" stroke-width="1"/><line x1="602.3" y1="237.9" x2="602.3" y2="251.6" stroke="rgba(0,138,0,0.72)" stroke-width="1.45"/><line x1="601.45" y1="237.9" x2="603.15" y2="237.9" stroke="rgba(0,138,0,0.72)" stroke-width="1"/><line x1="601.45" y1="251.6" x2="603.15" y2="251.6" stroke="rgba(0,138,0,0.72)" stroke-width="1"/><line x1="627.4" y1="239.1" x2="627.4" y2="252.6" stroke="rgba(0,138,0,0.72)" stroke-width="1.45"/><line x1="626.55" y1="239.1" x2="628.25" y2="239.1" stroke="rgba(0,138,0,0.72)" stroke-width="1"/><line x1="626.55" y1="252.6" x2="628.25" y2="252.6" stroke="rgba(0,138,0,0.72)" stroke-width="1"/><line x1="652.3" y1="251.6" x2="652.3" y2="271.1" stroke="rgba(0,138,0,0.72)" stroke-width="1.45"/><line x1="651.45" y1="251.6" x2="653.15" y2="251.6" stroke="rgba(0,138,0,0.72)" stroke-width="1"/><line x1="651.45" y1="271.1" x2="653.15" y2="271.1" stroke="rgba(0,138,0,0.72)" stroke-width="1"/><line x1="677.2" y1="273.6" x2="677.2" y2="303.1" stroke="rgba(0,138,0,0.72)" stroke-width="1.45"/><line x1="676.35" y1="273.6" x2="678.05" y2="273.6" stroke="rgba(0,138,0,0.72)" stroke-width="1"/><line x1="676.35" y1="303.1" x2="678.05" y2="303.1" stroke="rgba(0,138,0,0.72)" stroke-width="1"/><circle cx="552.5" cy="226" r="2.2" fill="rgba(0,0,0,0.85)"/><circle cx="577.3" cy="243.8" r="2.2" fill="#008a00"/><circle cx="602.3" cy="245" r="2.2" fill="#008a00"/><circle cx="627.4" cy="246.2" r="2.2" fill="#008a00"/><circle cx="652.3" cy="261.5" r="2.2" fill="#008a00"/><circle cx="677.2" cy="287.8" r="2.2" fill="#008a00"/><polygon points="552.6,209.13 554.71,210.44 556.82,211.7 558.94,212.88 561.05,213.99 563.16,215.03 565.27,215.98 567.38,216.87 569.49,217.67 571.61,218.4 573.72,219.06 575.83,219.66 577.94,220.2 580.05,220.7 582.17,221.15 584.28,221.58 586.39,221.99 588.5,222.4 590.61,222.81 592.73,223.23 594.84,223.66 596.95,224.12 599.06,224.62 601.17,225.15 603.28,225.71 605.4,226.33 607.51,226.99 609.62,227.69 611.73,228.45 613.84,229.26 615.96,230.12 618.07,231.03 620.18,231.99 622.29,233.01 624.4,234.07 626.52,235.18 628.63,236.34 630.74,237.53 632.85,238.77 634.96,240.03 637.07,241.33 639.19,242.64 641.3,243.97 643.41,245.31 645.52,246.64 647.63,247.96 649.75,249.26 651.86,250.53 653.97,251.76 656.08,252.93 658.19,254.05 660.31,255.11 662.42,256.09 664.53,257 666.64,257.84 668.75,258.6 670.86,259.29 672.98,259.9 675.09,260.45 677.2,260.92 677.2,306.58 675.09,303.67 672.98,300.88 670.86,298.22 668.75,295.69 666.64,293.29 664.53,291.02 662.42,288.89 660.31,286.88 658.19,285 656.08,283.24 653.97,281.59 651.86,280.05 649.75,278.61 647.63,277.26 645.52,275.99 643.41,274.78 641.3,273.63 639.19,272.54 637.07,271.48 634.96,270.46 632.85,269.47 630.74,268.51 628.63,267.56 626.52,266.63 624.4,265.71 622.29,264.8 620.18,263.89 618.07,263 615.96,262.1 613.84,261.22 611.73,260.33 609.62,259.46 607.51,258.59 605.4,257.72 603.28,256.87 601.17,256.03 599.06,255.21 596.95,254.4 594.84,253.63 592.73,252.88 590.61,252.17 588.5,251.51 586.39,250.91 584.28,250.36 582.17,249.89 580.05,249.5 577.94,249.21 575.83,249.02 573.72,248.95 571.61,248.99 569.49,249.16 567.38,249.46 565.27,249.9 563.16,250.46 561.05,251.17 558.94,252 556.82,252.96 554.71,254.05 552.6,255.26" fill="#999999" fill-opacity="0.4"/><polyline points="552.6,232.19 554.71,232.25 556.82,232.33 558.94,232.44 561.05,232.58 563.16,232.74 565.27,232.94 567.38,233.16 569.49,233.42 571.61,233.7 573.72,234 575.83,234.34 577.94,234.71 580.05,235.1 582.17,235.52 584.28,235.97 586.39,236.45 588.5,236.96 590.61,237.49 592.73,238.05 594.84,238.64 596.95,239.26 599.06,239.91 601.17,240.59 603.28,241.29 605.4,242.02 607.51,242.79 609.62,243.57 611.73,244.39 613.84,245.24 615.96,246.11 618.07,247.01 620.18,247.94 622.29,248.9 624.4,249.89 626.52,250.9 628.63,251.95 630.74,253.02 632.85,254.12 634.96,255.25 637.07,256.4 639.19,257.59 641.3,258.8 643.41,260.04 645.52,261.31 647.63,262.61 649.75,263.94 651.86,265.29 653.97,266.67 656.08,268.09 658.19,269.52 660.31,270.99 662.42,272.49 664.53,274.01 666.64,275.56 668.75,277.14 670.86,278.75 672.98,280.39 675.09,282.06 677.2,283.75" fill="none" stroke="#0000ff" stroke-width="2.3"/><path d="M546.1,203.8V311.7H683.3" fill="none" stroke="#1a1a1a" stroke-width="1.07"/><line x1="552.6" y1="311.7" x2="552.6" y2="314.4" stroke="#333" stroke-width="1"/><text x="552.6" y="322.7" class="tk" text-anchor="middle">0</text><line x1="594.1" y1="311.7" x2="594.1" y2="314.4" stroke="#333" stroke-width="1"/><text x="594.1" y="322.7" class="tk" text-anchor="middle">5</text><line x1="635.6" y1="311.7" x2="635.6" y2="314.4" stroke="#333" stroke-width="1"/><text x="635.6" y="322.7" class="tk" text-anchor="middle">10</text><line x1="677.2" y1="311.7" x2="677.2" y2="314.4" stroke="#333" stroke-width="1"/><text x="677.2" y="322.7" class="tk" text-anchor="middle">15</text><line x1="543.4" y1="206.6" x2="546.1" y2="206.6" stroke="#333" stroke-width="1"/><text x="541.5" y="209.65" class="tk" text-anchor="end">1</text><line x1="543.4" y1="224.9" x2="546.1" y2="224.9" stroke="#333" stroke-width="1"/><text x="541.5" y="227.95" class="tk" text-anchor="end">0</text><line x1="543.4" y1="243.2" x2="546.1" y2="243.2" stroke="#333" stroke-width="1"/><text x="541.5" y="246.25" class="tk" text-anchor="end">-1</text><line x1="543.4" y1="261.5" x2="546.1" y2="261.5" stroke="#333" stroke-width="1"/><text x="541.5" y="264.55" class="tk" text-anchor="end">-2</text><line x1="543.4" y1="279.8" x2="546.1" y2="279.8" stroke="#333" stroke-width="1"/><text x="541.5" y="282.85" class="tk" text-anchor="end">-3</text><line x1="543.4" y1="298.1" x2="546.1" y2="298.1" stroke="#333" stroke-width="1"/><text x="541.5" y="301.15" class="tk" text-anchor="end">-4</text><text x="546.1" y="183.5" class="ti">H. WSP</text><text x="546.1" y="196.9" class="su">R² = 0.909 , p = <0.05 , Model = Q</text><text x="614.7" y="335.5" class="xl" text-anchor="middle">Storage Time (days)</text><text transform="translate(528.8,258.4) rotate(-90)" class="xl" text-anchor="middle">g</text></g>
</svg></body></html>
